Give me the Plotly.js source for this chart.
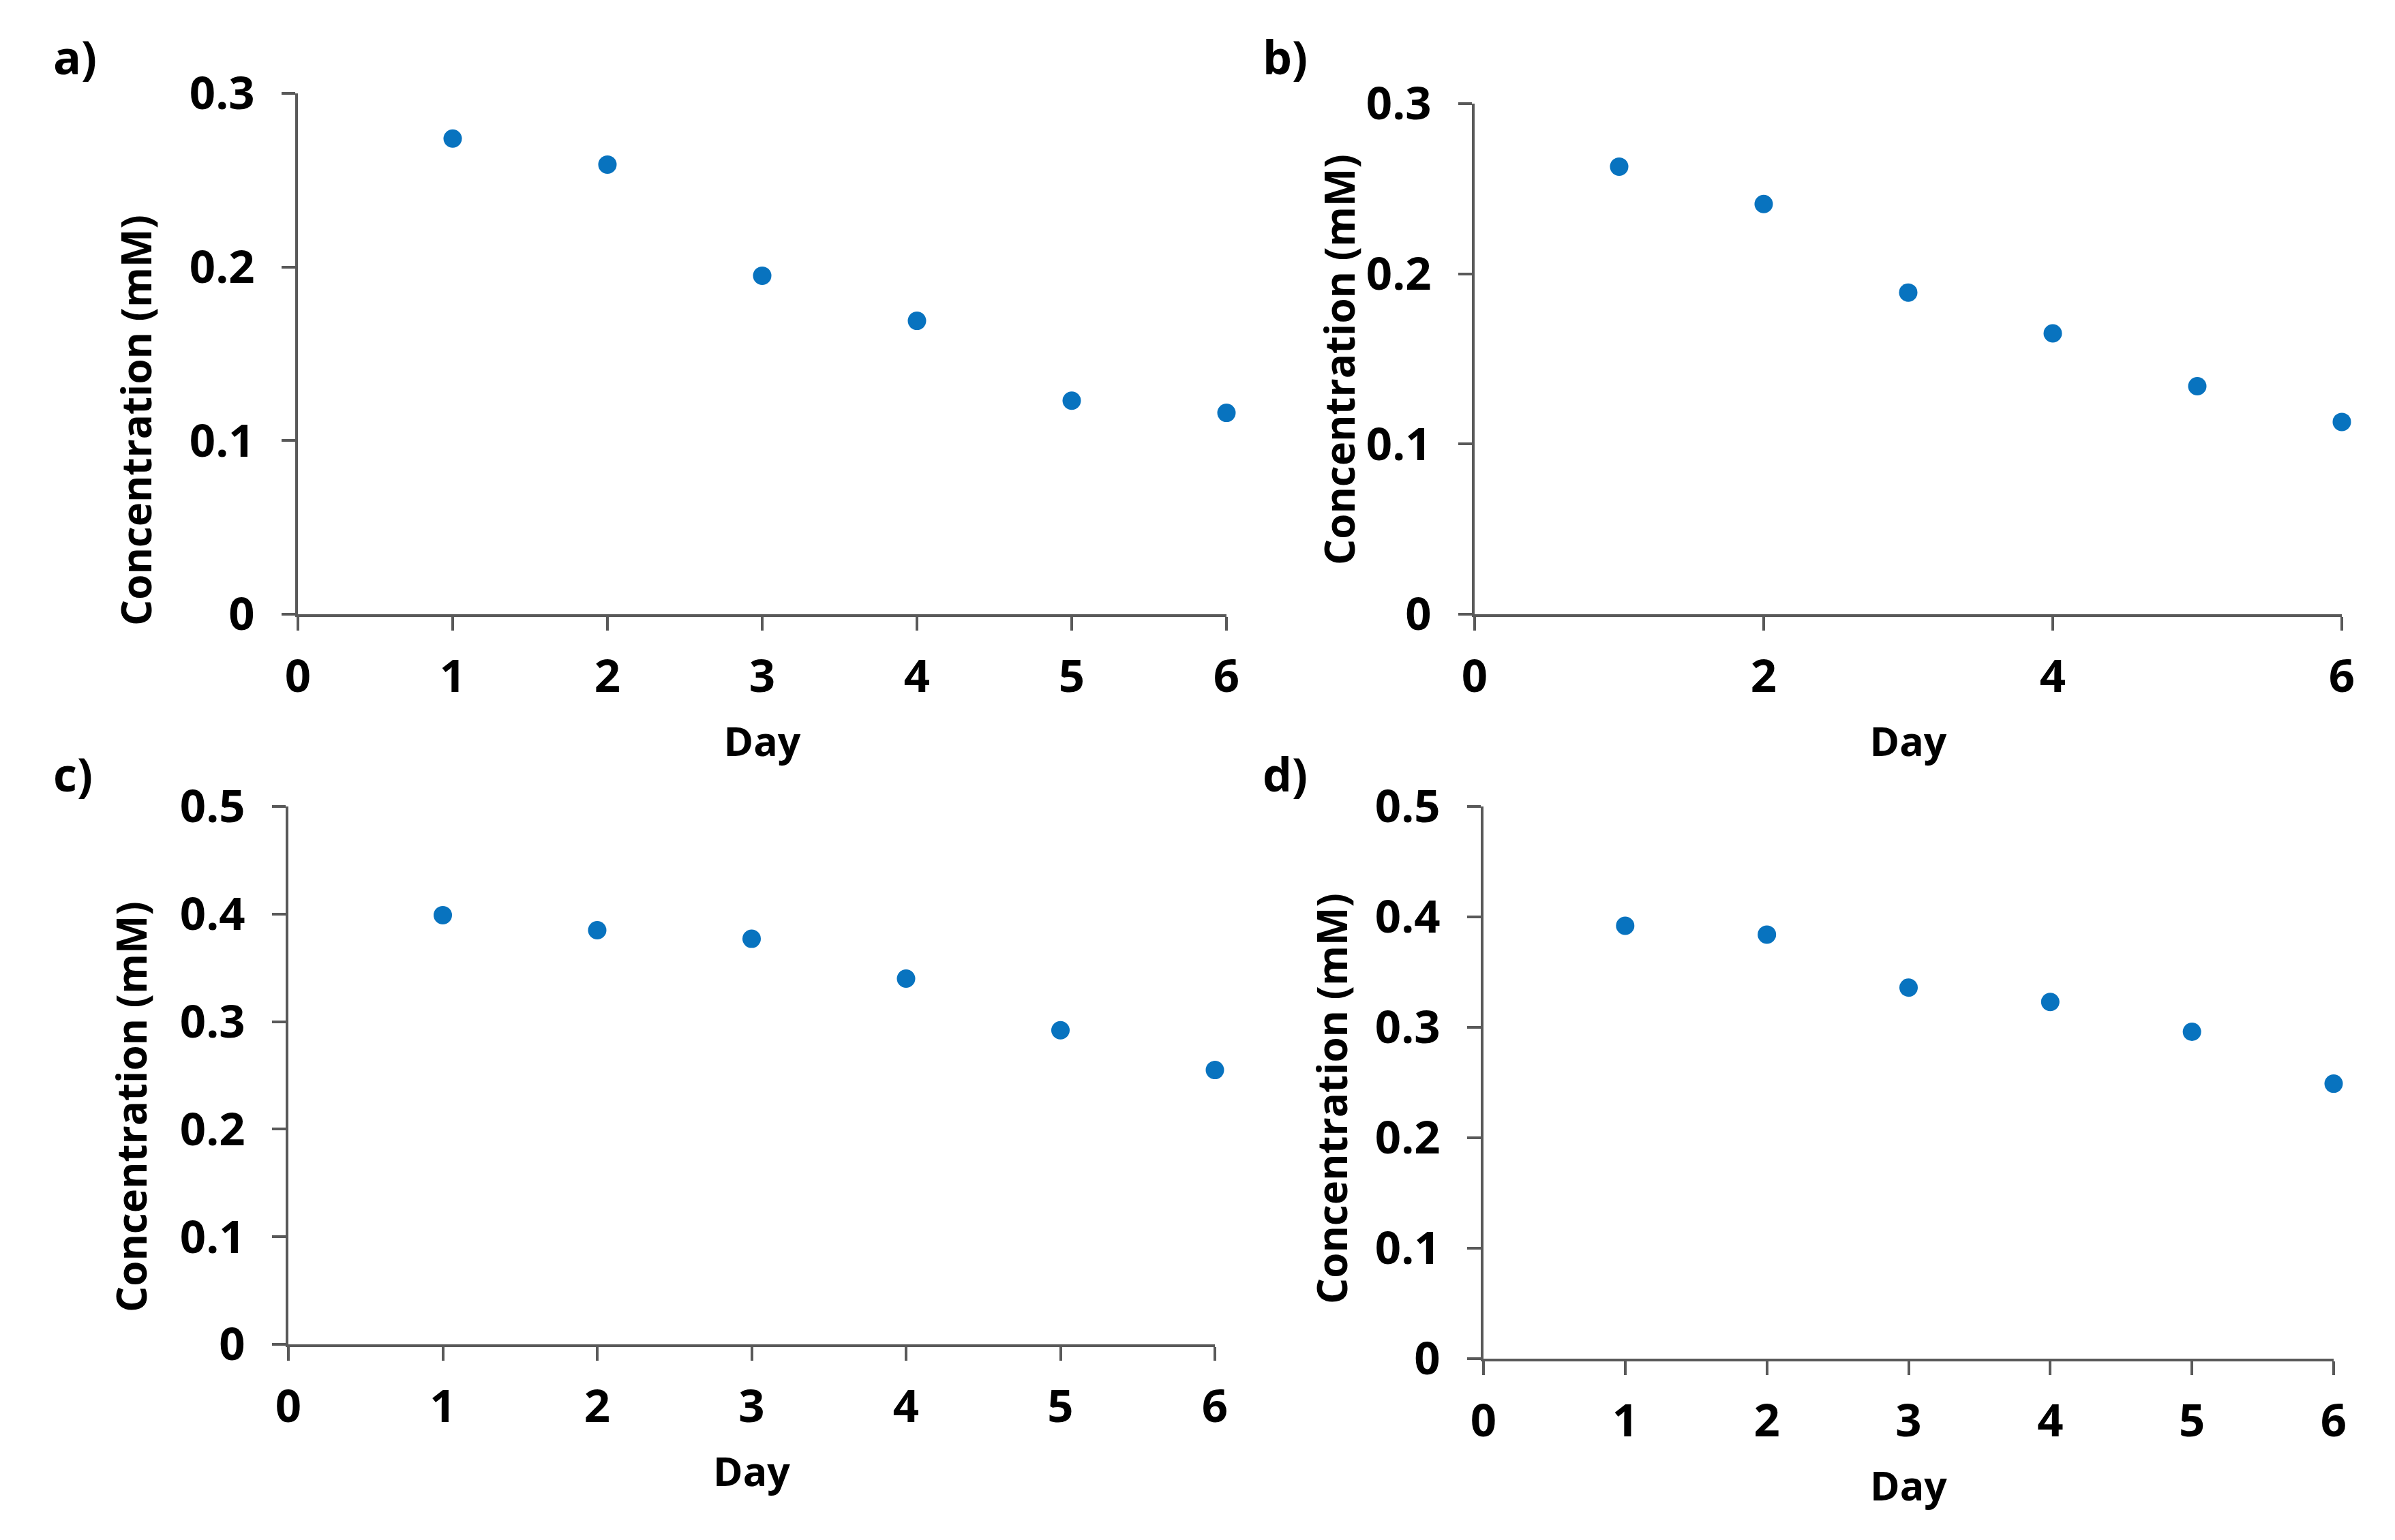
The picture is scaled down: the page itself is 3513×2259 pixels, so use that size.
<!DOCTYPE html>
<html>
<head>
<meta charset="utf-8">
<script src="https://cdn.plot.ly/plotly-3.0.1.min.js"></script>
<style>
  html, body { margin: 0; padding: 0; background: #ffffff; }
  #chart { width: 3513px; height: 2259px; }
</style>
</head>
<body>
<div id="chart"></div>
<script>
// ---- Data ----
const days = [1, 2, 3, 4, 5, 6];
const concA = [0.274, 0.259, 0.195, 0.169, 0.123, 0.116];
const concB = [0.263, 0.241, 0.189, 0.165, 0.134, 0.113];
const concC = [0.399, 0.385, 0.377, 0.340, 0.292, 0.255];
const concD = [0.392, 0.384, 0.336, 0.323, 0.296, 0.249];
const panelLabels = ['a)', 'b)', 'c)', 'd)'];
const xTitleText = 'Day';
const yTitleText = 'Concentration (mM)';
const yMaxes = [0.3, 0.3, 0.5, 0.5];
const xDticks = [1, 2, 1, 1];

// ---- Styling / layout ----
const W = 3513, H = 2259;
const px = v => v / W;
const py = v => 1 - v / H;
const FONT = 'Open Sans, Liberation Sans, Arial, sans-serif';
const AXIS_COLOR = '#595959';
const MARKER_COLOR = '#0873BF';

// pixel boxes of each plot area: [left, right, top, bottom]
const boxes = [
  [437, 1799, 137, 901],
  [2163, 3435, 152, 901],
  [423, 1782, 1183, 1972],
  [2176, 3423, 1183, 1993]
];
const yTitlePos = [[199, 617], [1964, 528], [192, 1624], [1953, 1612]];
const labelPos = [[76, 82], [1850, 82], [76, 1134], [1850, 1134]];

const series = [concA, concB, concC, concD];
const traces = [];
const layout = {
  width: W, height: H,
  margin: {l: 0, r: 0, t: 0, b: 0, pad: 0},
  paper_bgcolor: '#ffffff',
  plot_bgcolor: 'rgba(0,0,0,0)',
  showlegend: false,
  annotations: []
};

series.forEach((vals, i) => {
  const n = i + 1;
  const xa = 'x' + (n === 1 ? '' : n);
  const ya = 'y' + (n === 1 ? '' : n);
  traces.push({
    type: 'scatter', mode: 'markers',
    x: days, y: vals,
    xaxis: xa, yaxis: ya,
    cliponaxis: false,
    marker: {color: MARKER_COLOR, size: 27, line: {width: 0}},
    hoverinfo: 'x+y'
  });
  const b = boxes[i];
  const common = {
    showline: true, linecolor: AXIS_COLOR, linewidth: 4,
    ticks: 'outside', ticklen: 20, tickwidth: 4, tickcolor: AXIS_COLOR,
    showgrid: false, zeroline: false,
    tickfont: {family: FONT, size: 67, weight: 700, color: '#000000'},
    automargin: false, fixedrange: true
  };
  layout['xaxis' + (n === 1 ? '' : n)] = Object.assign({}, common, {
    domain: [px(b[0]), px(b[1])],
    anchor: ya,
    range: [0, 6], tickmode: 'linear', tick0: 0, dtick: xDticks[i],
    ticklabelstandoff: 10,
    title: {text: xTitleText, standoff: 34,
            font: {family: FONT, size: 59, weight: 700, color: '#000000'}}
  });
  layout['yaxis' + (n === 1 ? '' : n)] = Object.assign({}, common, {
    domain: [py(b[3]), py(b[2])],
    anchor: xa,
    range: [0, yMaxes[i]], tickmode: 'linear', tick0: 0, dtick: 0.1,
    ticklabelstandoff: 26
  });
  layout.annotations.push({
    xref: 'paper', yref: 'paper',
    x: px(yTitlePos[i][0]), y: py(yTitlePos[i][1]),
    xanchor: 'center', yanchor: 'middle',
    text: yTitleText, textangle: -90, showarrow: false,
    font: {family: FONT, size: 60, weight: 700, color: '#000000'}
  });
  layout.annotations.push({
    xref: 'paper', yref: 'paper',
    x: px(labelPos[i][0]), y: py(labelPos[i][1]),
    xanchor: 'left', yanchor: 'middle',
    text: panelLabels[i], showarrow: false,
    font: {family: FONT, size: 68, weight: 700, color: '#000000'}
  });
});

Plotly.newPlot('chart', traces, layout, {displayModeBar: false, staticPlot: true});
</script>
</body>
</html>
